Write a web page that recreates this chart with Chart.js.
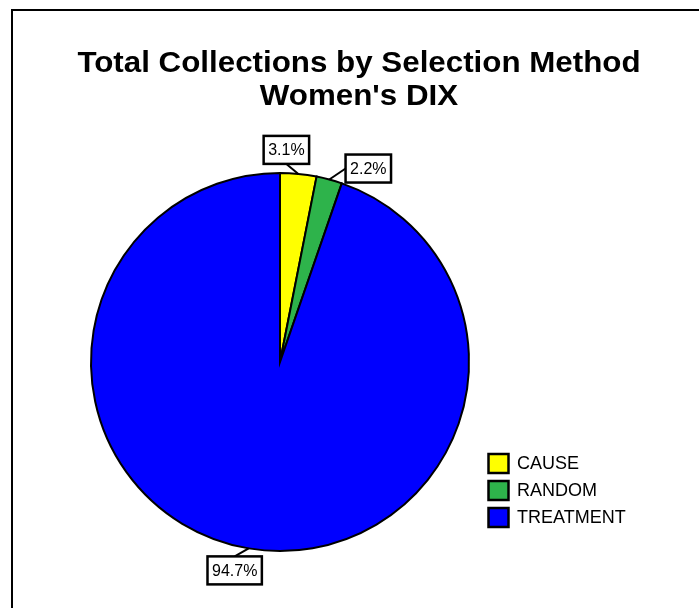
<!DOCTYPE html>
<html>
<head>
<meta charset="utf-8">
<script src="https://cdn.jsdelivr.net/npm/chart.js@4/dist/chart.umd.min.js"></script>
<style>
  html, body { margin: 0; padding: 0; background: #fff; }
  #wrap { width: 699px; height: 608px; }
</style>
</head>
<body>
<div id="wrap"><canvas id="c" width="699" height="608"></canvas></div>
<script>
const titleLines = ["Total Collections by Selection Method", "Women's DIX"];
const categories = ["CAUSE", "RANDOM", "TREATMENT"];
const percents = [3.1, 2.2, 94.7];
const sliceColors = ["#ffff00", "#2eb34b", "#0000ff"];

// where each percentage box sits relative to its slice's rim point
const labelOffsets = [[-12, -24], [39, -11], [-14, 22]];

const decorations = {
  id: "decorations",
  beforeDraw(chart) {
    const ctx = chart.ctx;
    ctx.save();
    ctx.fillStyle = "#fff";
    ctx.fillRect(0, 0, chart.width, chart.height);
    ctx.strokeStyle = "#000";
    ctx.lineWidth = 2;
    ctx.strokeRect(12, 10, 760, 700);
    ctx.fillStyle = "#000";
    ctx.font = "bold 29px 'Liberation Sans', Arial, sans-serif";
    ctx.textAlign = "center";
    ctx.textBaseline = "alphabetic";
    // title glyphs are set slightly wide
    ctx.translate(359, 0);
    ctx.scale(1.08, 1);
    ctx.fillText(titleLines[0], 0, 72);
    ctx.fillText(titleLines[1], 0, 105);
    ctx.restore();
  },
  afterDraw(chart) {
    const ctx = chart.ctx;
    const meta = chart.getDatasetMeta(0);
    ctx.save();
    ctx.font = "16px 'Liberation Sans', Arial, sans-serif";
    ctx.textAlign = "center";
    ctx.textBaseline = "middle";
    meta.data.forEach((arc, i) => {
      const p = arc.getProps(["x", "y", "startAngle", "endAngle", "outerRadius"], true);
      const mid = (p.startAngle + p.endAngle) / 2;
      const ex = p.x + Math.cos(mid) * p.outerRadius;
      const ey = p.y + Math.sin(mid) * p.outerRadius;
      const bx = ex + labelOffsets[i][0];
      const by = ey + labelOffsets[i][1];
      const text = percents[i].toFixed(1) + "%";
      const w = ctx.measureText(text).width + 9;
      const h = 28;
      // leader line meets the middle of the box side facing the rim
      let lx, ly;
      if (ey > by + h / 2) { lx = bx; ly = by + h / 2; }
      else if (ey < by - h / 2) { lx = bx; ly = by - h / 2; }
      else if (ex < bx) { lx = bx - w / 2; ly = by; }
      else { lx = bx + w / 2; ly = by; }
      ctx.strokeStyle = "#000";
      ctx.lineWidth = 2;
      ctx.beginPath();
      ctx.moveTo(ex, ey);
      ctx.lineTo(lx, ly);
      ctx.stroke();
      ctx.fillStyle = "#fff";
      ctx.fillRect(bx - w / 2, by - h / 2, w, h);
      ctx.lineWidth = 2.5;
      ctx.strokeRect(bx - w / 2, by - h / 2, w, h);
      ctx.fillStyle = "#000";
      ctx.fillText(text, bx, by + 1);
    });
    // legend
    ctx.font = "18px 'Liberation Sans', Arial, sans-serif";
    ctx.textAlign = "left";
    categories.forEach((name, i) => {
      const y = 463.5 + i * 27;
      ctx.fillStyle = sliceColors[i];
      ctx.fillRect(488.5, y - 9.5, 20, 19);
      ctx.strokeStyle = "#000";
      ctx.lineWidth = 2.5;
      ctx.strokeRect(488.5, y - 9.5, 20, 19);
      ctx.fillStyle = "#000";
      ctx.fillText(name, 517, y + 1);
    });
    ctx.restore();
  }
};

new Chart(document.getElementById("c"), {
  type: "pie",
  data: {
    labels: categories,
    datasets: [{
      data: percents,
      backgroundColor: sliceColors,
      borderColor: "#000",
      borderWidth: 2,
      borderJoinStyle: "miter"
    }]
  },
  options: {
    responsive: false,
    animation: false,
    events: [],
    layout: { padding: { left: 90, right: 229, top: 172, bottom: 56 } },
    plugins: {
      legend: { display: false },
      title: { display: false },
      tooltip: { enabled: false }
    }
  },
  plugins: [decorations]
});
</script>
</body>
</html>
